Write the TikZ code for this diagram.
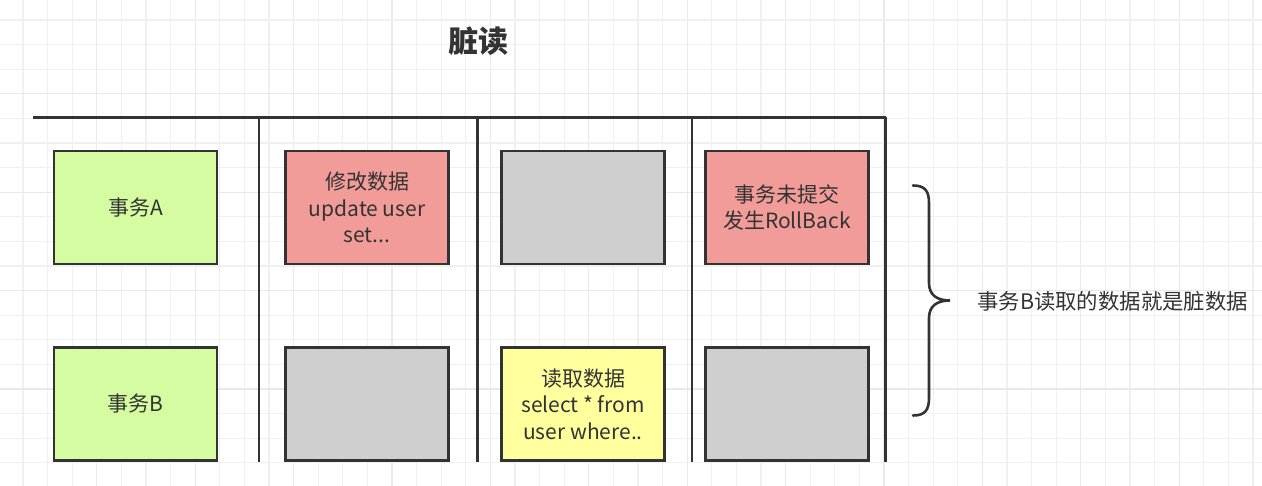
\documentclass[tikz,border=0pt]{standalone}
\usepackage{fontspec}
\setmainfont{Noto Sans CJK SC}
\definecolor{gridminor}{HTML}{F0F0F0}
\definecolor{gridmajor}{HTML}{E9E9E9}
\definecolor{linedark}{HTML}{333333}
\definecolor{boxgreen}{HTML}{D5FCA0}
\definecolor{boxred}{HTML}{F19C99}
\definecolor{boxgray}{HTML}{CFCFCF}
\definecolor{boxyellow}{HTML}{FFFF9E}
\definecolor{txt}{HTML}{333333}
\tikzset{
  cell/.style={draw=linedark, line width=2.6pt, minimum width=163pt, minimum height=113pt,
    inner sep=0pt, align=center, text=txt, font=\fontsize{21}{26.5}\selectfont},
  green/.style={cell, fill=boxgreen},
  redbox/.style={cell, fill=boxred},
  graybox/.style={cell, fill=boxgray},
  yellowbox/.style={cell, fill=boxyellow},
  sepline/.style={draw=linedark, line width=2.6pt},
  bracestyle/.style={draw=linedark, line width=2.6pt, line cap=round},
}
\begin{document}
\begin{tikzpicture}[x=1pt,y=-1pt]
\useasboundingbox (0,0) rectangle (1262,486);
\fill[white] (0,0) rectangle (1262,486);
\begin{scope}
\clip (0,0) rectangle (1262,486);
\foreach \i in {0,...,52} {
  \pgfmathsetmacro{\xx}{-1.6+24.6*\i}
  \pgfmathtruncatemacro{\mm}{mod(\i,4)}
  \ifnum\mm=0
    \draw[gridmajor, line width=1.2pt] (\xx,0) -- (\xx,486);
  \else
    \draw[gridminor, line width=1.2pt] (\xx,0) -- (\xx,486);
  \fi
}
\foreach \i in {0,...,21} {
  \pgfmathsetmacro{\yy}{-4.6+24.6*\i}
  \pgfmathtruncatemacro{\mm}{mod(\i,4)}
  \ifnum\mm=0
    \draw[gridmajor, line width=1.2pt] (0,\yy) -- (1262,\yy);
  \else
    \draw[gridminor, line width=1.2pt] (0,\yy) -- (1262,\yy);
  \fi
}
\end{scope}

% title
\node[text=txt, font=\fontsize{30}{34}\selectfont\bfseries] (title) at (478,41) {脏读};

% table lines
\coordinate (hl) at (33,117.5);
\coordinate (hr) at (885.5,117.5);
\draw[sepline] (hl) -- (hr);
\foreach \x/\n in {259/a, 477.5/b, 692/c, 885.5/d} {
  \coordinate (t\n) at (\x,117.5);
  \coordinate (b\n) at (\x,461.5);
  \draw[sepline] (t\n) -- (b\n);
}

% row A
\node[green] (a1) at (135.5,207.5) {事务A};
\node[redbox] (a2) at (367,207.5) {修改数据\\update user\\set...};
\node[graybox] (a3) at (583,207.5) {};
\node[redbox] (a4) at (787,207.5) {事务未提交\\发生RollBack};

% row B
\node[green] (b1) at (135.5,404) {事务B};
\node[graybox] (b2) at (367,404) {};
\node[yellowbox] (b3) at (583,404) {读取数据\\select * from\\user where..};
\node[graybox] (b4) at (787,404) {};

% brace
\coordinate (brtop) at (913,185.5);
\coordinate (brtip) at (950,300.5);
\coordinate (brbot) at (913,415.5);
\draw[bracestyle] (brtop) .. controls (925,185.5) and (929,191) .. (929,203)
  -- (929,283) .. controls (929,295) and (937,300.5) .. (brtip)
  .. controls (937,300.5) and (929,306) .. (929,318)
  -- (929,398) .. controls (929,410) and (925,415.5) .. (brbot);

\node[anchor=west, text=txt, font=\fontsize{21.4}{26}\selectfont, inner sep=0pt] (label) at (977,301) {事务B读取的数据就是脏数据};
\end{tikzpicture}
\end{document}
